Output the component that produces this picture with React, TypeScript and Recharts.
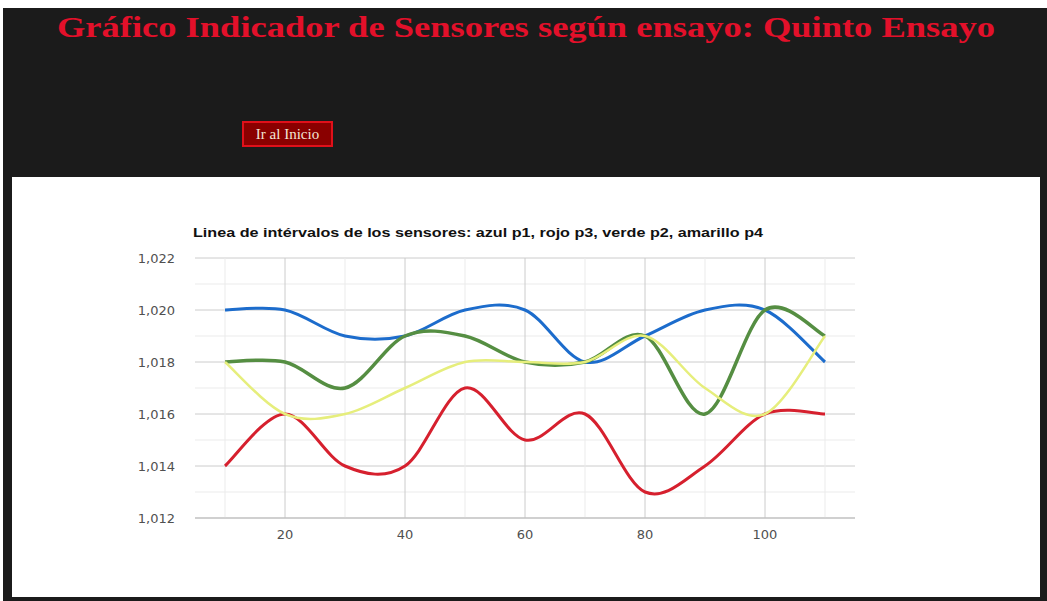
import React from 'react';
import { LineChart, Line, XAxis, YAxis, CartesianGrid, ReferenceLine } from 'recharts';

// x positions of the readings
const intervals = [10, 20, 30, 40, 50, 60, 70, 80, 90, 100, 110];

// sensor readings per interval
const azulP1 = [1.02, 1.02, 1.019, 1.019, 1.02, 1.02, 1.018, 1.019, 1.02, 1.02, 1.018];
const rojoP3 = [1.014, 1.016, 1.014, 1.014, 1.017, 1.015, 1.016, 1.013, 1.014, 1.016, 1.016];
const verdeP2 = [1.018, 1.018, 1.017, 1.019, 1.019, 1.018, 1.018, 1.019, 1.016, 1.02, 1.019];
const amarilloP4 = [1.018, 1.016, 1.016, 1.017, 1.018, 1.018, 1.018, 1.019, 1.017, 1.016, 1.019];

const xTicks = [20, 40, 60, 80, 100];
const xMinor = [10, 30, 50, 70, 90, 110];
const yTicks = [1.012, 1.014, 1.016, 1.018, 1.02, 1.022];
const yMinor = [1.013, 1.015, 1.017, 1.019, 1.021];

const data = intervals.map((x, i) => ({
  x,
  p1: azulP1[i],
  p3: rojoP3[i],
  p2: verdeP2[i],
  p4: amarilloP4[i],
}));

// smooth curve through the points (catmull-rom style, like google's "function" curve)
const smoothCurve = (context: any) => {
  let pts: number[][] = [];
  return {
    areaStart() {},
    areaEnd() {},
    lineStart() {
      pts = [];
    },
    point(x: number, y: number) {
      pts.push([+x, +y]);
    },
    lineEnd() {
      if (!pts.length) return;
      context.moveTo(pts[0][0], pts[0][1]);
      for (let i = 0; i < pts.length - 1; i++) {
        const p0 = pts[i - 1] || pts[i];
        const p1 = pts[i];
        const p2 = pts[i + 1];
        const p3 = pts[i + 2] || p2;
        const t = 6;
        context.bezierCurveTo(
          p1[0] + (p2[0] - p0[0]) / t,
          p1[1] + (p2[1] - p0[1]) / t,
          p2[0] - (p3[0] - p1[0]) / t,
          p2[1] - (p3[1] - p1[1]) / t,
          p2[0],
          p2[1]
        );
      }
    },
  };
};

const fmt = (v: number) => v.toFixed(3).replace('.', ',');

const tickStyle = { fill: '#505050', fontSize: 13, fontFamily: "'DejaVu Sans', sans-serif" };

const App: React.FC = () => {
  return (
    <div style={{ position: 'absolute', left: 0, top: 0, width: 1047, height: 601, background: '#fff', overflow: 'hidden' }}>
      <div style={{ position: 'absolute', left: 3, top: 8, width: 1044, height: 593, background: '#1b1b1b' }} />
      <svg style={{ position: 'absolute', left: 0, top: 0 }} width={1047} height={60}>
        <text
          x={57}
          y={37}
          textLength={938}
          lengthAdjust="spacingAndGlyphs"
          fill="#e3102a"
          fontFamily="'Liberation Serif', serif"
          fontWeight="bold"
          fontSize={29}
        >
          Gráfico Indicador de Sensores según ensayo: Quinto Ensayo
        </text>
      </svg>
      <div
        style={{
          position: 'absolute',
          left: 242,
          top: 121,
          width: 87,
          height: 22,
          background: '#8a0000',
          border: '2px solid #e0101a',
          color: '#f3e6d6',
          fontFamily: "'Liberation Serif', serif",
          fontSize: 15,
          lineHeight: '22px',
          textAlign: 'center',
        }}
      >
        Ir al Inicio
      </div>
      <div style={{ position: 'absolute', left: 12, top: 177, width: 1028, height: 420, background: '#fff' }}>
        <svg style={{ position: 'absolute', left: 0, top: 0 }} width={1028} height={70}>
          <text
            x={181}
            y={60}
            textLength={570}
            lengthAdjust="spacingAndGlyphs"
            fill="#111"
            fontFamily="'Liberation Sans', Arial, sans-serif"
            fontWeight="bold"
            fontSize={12}
          >
            Linea de intérvalos de los sensores: azul p1, rojo p3, verde p2, amarillo p4
          </text>
        </svg>
        <LineChart
          width={1028}
          height={420}
          data={data}
          margin={{ top: 81, right: 185, bottom: 49, left: 123 }}
          style={{ position: 'absolute', left: 0, top: 0 }}
        >
          {xMinor.map((v) => (
            <ReferenceLine key={'x' + v} x={v} stroke="#ebebeb" strokeWidth={1} />
          ))}
          {yMinor.map((v) => (
            <ReferenceLine key={'y' + v} y={v} stroke="#ebebeb" strokeWidth={1} />
          ))}
          {xTicks.map((v) => (
            <ReferenceLine key={'xm' + v} x={v} stroke="#cccccc" strokeWidth={1} />
          ))}
          <CartesianGrid stroke="#cccccc" vertical={false} />
          <XAxis
            dataKey="x"
            type="number"
            domain={[5, 115]}
            ticks={xTicks}
            axisLine={{ stroke: '#bbb' }}
            tickLine={false}
            tick={tickStyle}
            height={30}
            tickMargin={6}
          />
          <YAxis
            type="number"
            domain={[1.012, 1.022]}
            ticks={yTicks}
            tickFormatter={fmt}
            axisLine={false}
            tickLine={false}
            tick={tickStyle}
            width={60}
            tickMargin={14}
          />
          <Line type={smoothCurve as any} dataKey="p1" stroke="#1c6ccc" strokeWidth={3} dot={false} isAnimationActive={false} />
          <Line type={smoothCurve as any} dataKey="p3" stroke="#d6202e" strokeWidth={3} dot={false} isAnimationActive={false} />
          <Line type={smoothCurve as any} dataKey="p2" stroke="#558e42" strokeWidth={3.5} dot={false} isAnimationActive={false} />
          <Line type={smoothCurve as any} dataKey="p4" stroke="#e6ee7c" strokeWidth={2.5} dot={false} isAnimationActive={false} />
        </LineChart>
      </div>
    </div>
  );
};

export default App;
